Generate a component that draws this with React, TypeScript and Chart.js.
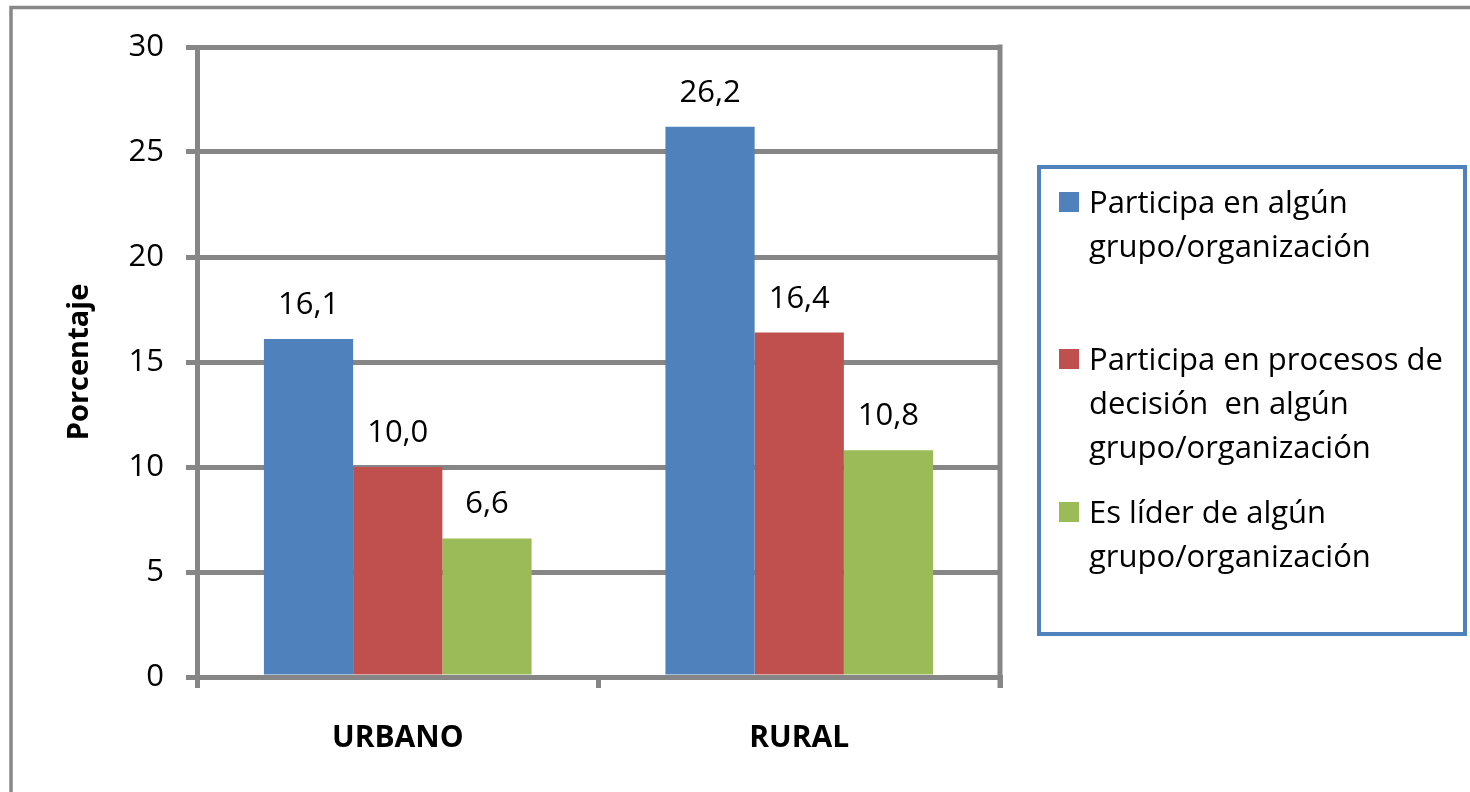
import React, { useEffect, useRef } from "react";
import { Chart, registerables } from "chart.js";

Chart.register(...registerables);

const categories = ["URBANO", "RURAL"];
const legendLines = [
  ["Participa en algún", "grupo/organización"],
  ["Participa en procesos de", "decisión  en algún", "grupo/organización"],
  ["Es líder de algún", "grupo/organización"],
];
const seriesParticipa = [16.1, 26.2];
const seriesDecision = [10.0, 16.4];
const seriesLider = [6.6, 10.8];
const yTicks = [0, 5, 10, 15, 20, 25, 30];
const yTitle = "Porcentaje";

const COLORS = ["#4F81BD", "#C0504D", "#9BBB59"];
const GRID = "#868686";
const FONT = "'Open Sans', Lato, sans-serif";

// legend layout
const LEG_BOX = { x: 1039, y: 167, w: 426, h: 467 };
const LEG_BASELINES = [213, 370, 523];
const LEG_LINE_H = 44;

export default function App() {
  const ref = useRef<HTMLCanvasElement | null>(null);

  useEffect(() => {
    document.body.style.margin = "0";
    const canvas = ref.current;
    if (!canvas) return;

    const outerBorder = {
      id: "outerBorder",
      beforeDraw(chart: any) {
        const ctx = chart.ctx;
        ctx.save();
        ctx.fillStyle = "#fff";
        ctx.fillRect(0, 0, chart.width, chart.height);
        ctx.strokeStyle = "#888888";
        ctx.lineWidth = 3.5;
        ctx.strokeRect(11, 7.5, chart.width + 100, chart.height + 100);
        ctx.restore();
      },
    };

    const extras = {
      id: "extras",
      afterDatasetsDraw(chart: any) {
        const ctx = chart.ctx;
        const area = chart.chartArea;
        ctx.save();
        // right border of plot area
        ctx.strokeStyle = GRID;
        ctx.lineWidth = 5;
        ctx.beginPath();
        ctx.moveTo(area.right, area.top - 2.5);
        ctx.lineTo(area.right, area.bottom + 11);
        ctx.stroke();
        // value labels
        ctx.fillStyle = "#000";
        ctx.font = `31px ${FONT}`;
        ctx.textAlign = "center";
        ctx.textBaseline = "alphabetic";
        chart.data.datasets.forEach((ds: any, i: number) => {
          const meta = chart.getDatasetMeta(i);
          meta.data.forEach((el: any, j: number) => {
            const v = ds.data[j] as number;
            ctx.fillText(v.toFixed(1).replace(".", ","), el.x, el.y - 25);
          });
        });
        // y-axis title
        ctx.save();
        ctx.translate(80, (area.top + area.bottom) / 2);
        ctx.rotate(-Math.PI / 2);
        ctx.font = `bold 29px ${FONT}`;
        ctx.textBaseline = "middle";
        ctx.fillText(yTitle, 0, 0);
        ctx.restore();
        // legend
        ctx.strokeStyle = COLORS[0];
        ctx.lineWidth = 4;
        ctx.strokeRect(LEG_BOX.x, LEG_BOX.y, LEG_BOX.w, LEG_BOX.h);
        ctx.textAlign = "left";
        ctx.font = `31px ${FONT}`;
        chart.data.datasets.forEach((ds: any, i: number) => {
          const b = LEG_BASELINES[i];
          ctx.fillStyle = ds.backgroundColor;
          ctx.fillRect(1059, b - 21, 20, 20);
          ctx.fillStyle = "#000";
          legendLines[i].forEach((line, k) => {
            ctx.fillText(line, 1089, b + k * LEG_LINE_H);
          });
        });
        ctx.restore();
      },
    };

    const chart = new Chart(canvas, {
      type: "bar",
      data: {
        labels: categories,
        datasets: [seriesParticipa, seriesDecision, seriesLider].map((d, i) => ({
          label: legendLines[i].join(" "),
          data: d,
          backgroundColor: COLORS[i],
          borderWidth: 0,
          barPercentage: 1,
          categoryPercentage: 2 / 3,
        })),
      },
      options: {
        animation: false,
        responsive: true,
        maintainAspectRatio: false,
        layout: { padding: { left: 0, right: 470, top: 47, bottom: 0 } },
        plugins: {
          legend: { display: false },
          tooltip: { enabled: false },
          title: { display: false },
        },
        scales: {
          x: {
            offset: true,
            grid: {
              display: true,
              drawOnChartArea: false,
              drawTicks: true,
              tickLength: 11,
              lineWidth: 5,
              color: GRID,
              offset: true,
            },
            border: { display: true, width: 5, color: GRID },
            ticks: {
              color: "#000",
              font: { family: FONT, size: 30, weight: "bold" },
              padding: 32,
            },
            afterFit(scale: any) {
              scale.height = 115;
            },
          },
          y: {
            min: 0,
            max: 30,
            afterBuildTicks(scale: any) {
              scale.ticks = yTicks.map((v) => ({ value: v }));
            },
            grid: {
              color: GRID,
              lineWidth: 5,
              tickLength: 11,
              drawTicks: true,
            },
            border: { display: true, width: 5, color: GRID },
            ticks: {
              color: "#000",
              font: { family: FONT, size: 31 },
              padding: 22,
            },
            afterFit(scale: any) {
              scale.width = 197;
            },
          },
        },
      },
      plugins: [outerBorder, extras],
    });

    return () => chart.destroy();
  }, []);

  return (
    <div style={{ position: "relative", width: 1470, height: 792, background: "#fff" }}>
      <canvas ref={ref} />
    </div>
  );
}
